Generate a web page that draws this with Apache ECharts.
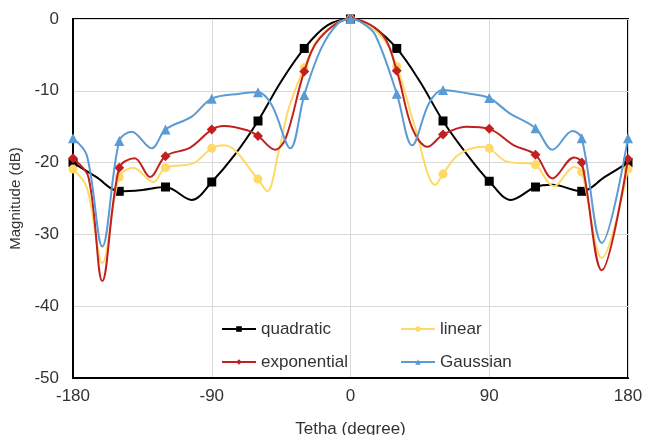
<!DOCTYPE html>
<html>
<head>
<meta charset="utf-8">
<script src="https://cdn.jsdelivr.net/npm/echarts@6/dist/echarts.min.js"></script>
<style>
html,body{margin:0;padding:0;background:#fff;}
#chart{width:645px;height:435px;}
</style>
</head>
<body>
<div id="chart"></div>
<script>
// ---- data ----
const xTicks = [-180, -90, 0, 90, 180];
const yTicks = [-50, -40, -30, -20, -10, 0];
const seriesNames = ['quadratic', 'linear', 'exponential', 'Gaussian'];

const quadX = [-180,-165,-150,-135,-120,-103,-90,-75,-60,-45,-30,-15,0,15,30,45,60,75,90,104,120,131,150,165,180];
const quadY = [-20.0,-22.0,-24.0,-23.8,-23.4,-25.2,-22.7,-18.9,-14.2,-8.7,-4.1,-0.9,0,-1.2,-4.1,-8.7,-14.2,-18.7,-22.6,-25.2,-23.4,-23.1,-24.0,-22.0,-20.0];

const linX = [-180,-171,-161,-150,-141,-128,-120,-102,-90,-82,-60,-54,-47,-40,-30,-20,0,20,30,42,55,60,70,86,90,102,115,120,132,145,150,163,180];
const linY = [-20.9,-23.5,-34.0,-22.0,-20.7,-22.7,-20.7,-20.1,-18.0,-17.6,-22.3,-24.0,-18.9,-12.4,-6.8,-2.5,0,-2.4,-6.6,-15.2,-23.1,-21.6,-18.9,-17.8,-18.0,-19.9,-20.1,-20.3,-23.3,-20.6,-21.3,-33.3,-20.9];

const expX = [-180,-170,-161,-150,-140,-130,-120,-104,-90,-82,-67,-60,-49,-42,-30,-20,0,20,30,40,50,60,75,90,106,120,131,145,150,163,180];
const expY = [-19.4,-22.0,-36.5,-20.7,-19.4,-22.0,-19.1,-17.9,-15.4,-14.9,-15.5,-16.3,-18.2,-16.6,-7.3,-2.7,0,-2.0,-7.2,-15.2,-17.8,-16.1,-15.0,-15.3,-17.6,-18.9,-22.2,-19.3,-20.0,-35.0,-19.5];

const gauX = [-180,-171,-161,-150,-142,-129,-120,-103,-90,-72,-60,-51,-39,-30,-19,-8,0,8,16,30,40,51,60,77,90,103,120,131,144,150,163,180];
const gauY = [-16.6,-19.0,-31.7,-17.0,-15.7,-18.0,-15.4,-13.6,-11.1,-10.4,-10.2,-12.0,-18.0,-10.6,-4.1,-0.6,0,-0.6,-2.2,-10.4,-17.6,-11.7,-9.9,-10.4,-11.0,-13.1,-15.2,-18.2,-15.6,-16.6,-31.2,-16.6];

// ---- build ----
function pts(xs, ys) {
  return xs.map((x, i) => (x % 30 === 0) ? [x, ys[i]] : { value: [x, ys[i]], symbol: 'none' });
}
const colors = ['#000000', '#FFD966', '#C0201E', '#5B9BD5'];
const symbols = ['rect', 'circle', 'diamond', 'triangle'];
const sizes = [9, 9, 10, 10];
const dataSets = [pts(quadX, quadY), pts(linX, linY), pts(expX, expY), pts(gauX, gauY)];

const font = 'Liberation Sans, Arial, sans-serif';
const series = seriesNames.map((n, i) => ({
  name: n,
  type: 'line',
  data: dataSets[i],
  smooth: 0.35,
  symbol: symbols[i],
  symbolSize: sizes[i],
  showSymbol: true,
  lineStyle: { color: colors[i], width: 2 },
  itemStyle: { color: colors[i] },
  animation: false,
  z: 2 + i
}));

function legendAt(name, left, top) {
  return {
    data: [name], left: left, top: top, padding: 0,
    itemWidth: 34, itemHeight: 7, itemGap: 0,
    textStyle: { fontFamily: font, fontSize: 17, color: '#333333', lineHeight: 18 }
  };
}

const chart = echarts.init(document.getElementById('chart'), null, { renderer: 'canvas' });
chart.setOption({
  backgroundColor: '#ffffff',
  animation: false,
  grid: { left: 73, right: 17, top: 19, bottom: 57, show: true, borderColor: '#000', borderWidth: 2,
          containLabel: false, outerBoundsMode: 'none' },
  legend: [
    legendAt('quadratic', 221, 320),
    legendAt('exponential', 221, 353),
    legendAt('linear', 400, 320),
    legendAt('Gaussian', 400, 353)
  ],
  xAxis: {
    type: 'value', min: xTicks[0], max: xTicks[xTicks.length - 1], interval: 90,
    name: 'Tetha (degree)', nameLocation: 'middle', nameGap: 43,
    nameTextStyle: { fontFamily: font, fontSize: 17, color: '#333333' },
    axisLine: { onZero: false, lineStyle: { color: '#000', width: 2 } },
    axisTick: { show: false },
    axisLabel: { fontFamily: font, fontSize: 17, color: '#333333', margin: 10 },
    splitLine: { show: true, lineStyle: { color: '#d9d9d9', width: 1 } }
  },
  yAxis: {
    type: 'value', min: yTicks[0], max: yTicks[yTicks.length - 1], interval: 10,
    name: 'Magnitude (dB)', nameLocation: 'middle', nameGap: 45,
    nameTextStyle: { fontFamily: font, fontSize: 15, color: '#333333' },
    axisLine: { onZero: false, lineStyle: { color: '#000', width: 2 } },
    axisTick: { show: false },
    axisLabel: { fontFamily: font, fontSize: 17, color: '#333333', margin: 14 },
    splitLine: { show: true, lineStyle: { color: '#d9d9d9', width: 1 } }
  },
  series: series
});
</script>
</body>
</html>
